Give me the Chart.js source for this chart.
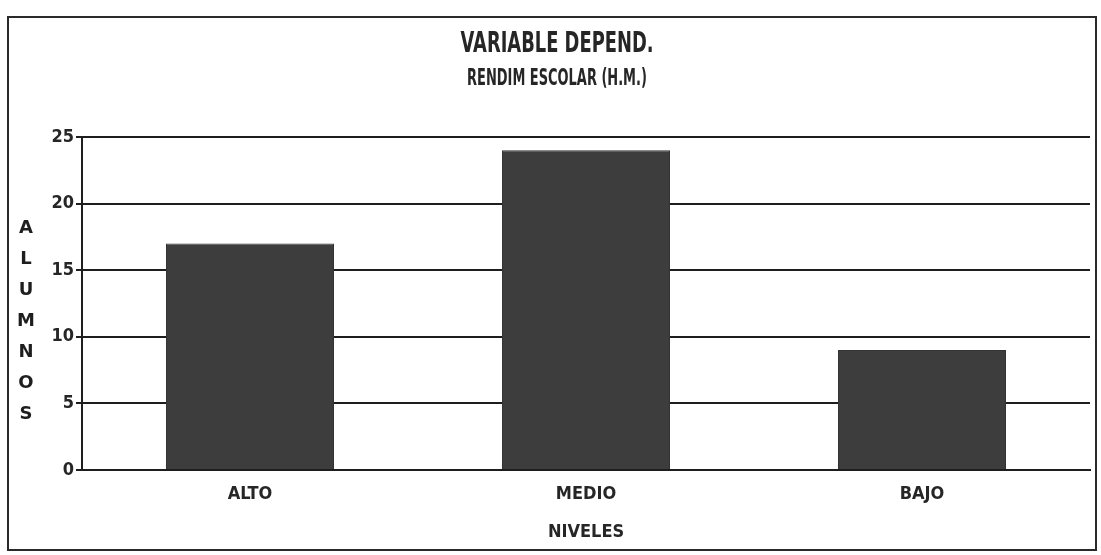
<!DOCTYPE html>
<html>
<head>
<meta charset="utf-8">
<script src="https://cdn.jsdelivr.net/npm/chart.js@4"></script>
<style>
  html, body { margin: 0; padding: 0; background: #ffffff; }
  #wrap { width: 1101px; height: 555px; position: relative; }
</style>
</head>
<body>
<div id="wrap"><canvas id="c" width="1101" height="555"></canvas></div>
<script>
const categories = ['ALTO', 'MEDIO', 'BAJO'];
const alumnos = [17, 24, 9];
const yTicks = [0, 5, 10, 15, 20, 25];
const titleText = 'VARIABLE DEPEND.';
const subtitleText = 'RENDIM ESCOLAR (H.M.)';
const yTitleText = 'ALUMNOS';
const xTitleText = 'NIVELES';

const FONT = "'DejaVu Sans', 'Liberation Sans', sans-serif";
const NARROW = "'Liberation Sans Narrow', 'DejaVu Sans Condensed', 'DejaVu Sans', sans-serif";
const INK = '#1e1e1e';
const TEXT = '#262626';

function condensedText(ctx, text, cx, cy, size, sx) {
  ctx.save();
  ctx.font = 'bold ' + size + 'px ' + FONT;
  ctx.fillStyle = TEXT;
  ctx.textAlign = 'center';
  ctx.textBaseline = 'middle';
  ctx.translate(cx, cy);
  ctx.scale(sx, 1);
  ctx.fillText(text, 0, 0);
  ctx.restore();
}

const framePlugin = {
  id: 'frame',
  beforeDraw(chart) {
    const ctx = chart.ctx;
    ctx.save();
    ctx.fillStyle = '#ffffff';
    ctx.fillRect(0, 0, chart.width, chart.height);
    ctx.strokeStyle = '#2a2a2a';
    ctx.lineWidth = 2;
    ctx.strokeRect(8, 17, 1088, 533);
    ctx.restore();
  },
  afterDraw(chart) {
    const ctx = chart.ctx;
    const area = chart.chartArea;
    const cx = (area.left + area.right) / 2 - 29;
    condensedText(ctx, titleText, cx, 44, 29, 0.616);
    condensedText(ctx, subtitleText, cx, 79, 23, 0.564);
    ctx.save();
    ctx.fillStyle = INK;
    ctx.font = "bold 18px " + FONT;
    ctx.textAlign = 'center';
    ctx.textBaseline = 'middle';
    const letters = yTitleText.split('');
    const mid = (area.top + area.bottom) / 2 + 18;
    const step = 31;
    const start = mid - step * (letters.length - 1) / 2;
    letters.forEach((ch, i) => ctx.fillText(ch, 26, start + i * step));
    ctx.restore();
  }
};

new Chart(document.getElementById('c'), {
  type: 'bar',
  data: {
    labels: categories,
    datasets: [{
      label: 'ALUMNOS',
      data: alumnos,
      backgroundColor: '#3d3d3d',
      borderColor: '#333333',
      borderWidth: 1,
      barPercentage: 0.5,
      categoryPercentage: 1.0
    }]
  },
  options: {
    responsive: false,
    animation: false,
    devicePixelRatio: 1,
    layout: { padding: { left: 0, right: 11, top: 137, bottom: 12 } },
    plugins: {
      legend: { display: false },
      tooltip: { enabled: false },
      title: { display: false },
      subtitle: { display: false }
    },
    scales: {
      x: {
        grid: { display: false },
        border: { display: true, color: INK, width: 2 },
        ticks: {
          color: TEXT,
          font: { family: NARROW, size: 18, weight: 'bold' },
          padding: 6
        },
        title: {
          display: true,
          text: xTitleText,
          color: TEXT,
          font: { family: NARROW, size: 18, weight: 'bold' },
          padding: { top: 14, bottom: 0 }
        },
        afterFit(scale) { scale.height = 73; }
      },
      y: {
        min: 0,
        max: 25,
        afterBuildTicks(scale) { scale.ticks = yTicks.map(v => ({ value: v })); },
        grid: {
          color: INK,
          lineWidth: 2,
          tickLength: 6,
          drawTicks: true
        },
        border: { display: true, color: INK, width: 2 },
        ticks: {
          color: TEXT,
          font: { family: NARROW, size: 18, weight: 'bold' },
          padding: 2
        },
        afterFit(scale) { scale.width = 82; }
      }
    }
  },
  plugins: [framePlugin]
});
</script>
</body>
</html>
